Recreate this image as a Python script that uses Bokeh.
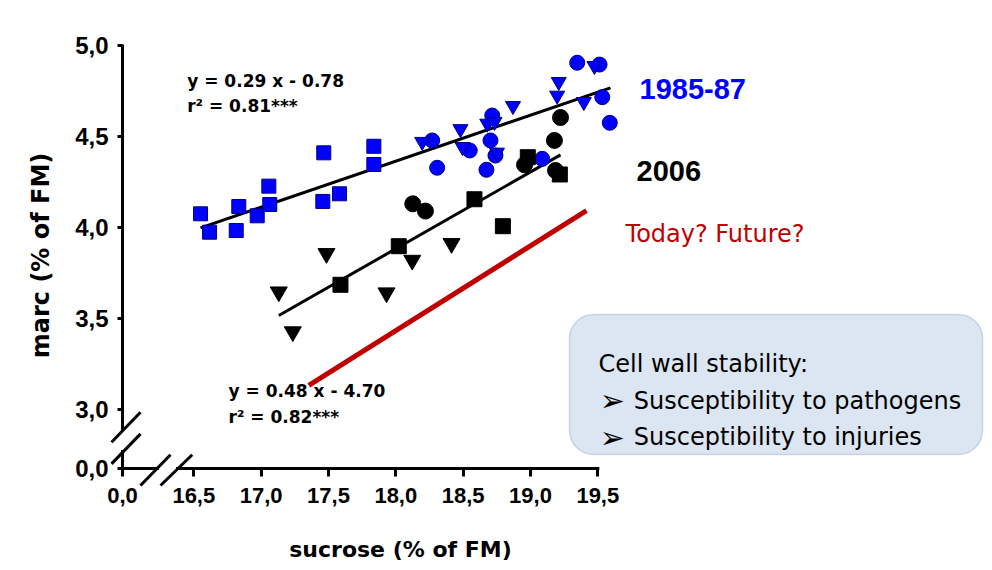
import math
from bokeh.plotting import figure
from bokeh.models import Range1d, FixedTicker, CustomJSTickFormatter, Label, BoxAnnotation
from bokeh.core.properties import value
from bokeh.embed import file_html
from bokeh.resources import INLINE

# ---------------- data (sucrose % of FM  vs  marc % of FM) ----------------
# 1985-87 (blue)
sq85_x = [16.550, 16.617, 16.834, 16.815, 16.971, 17.057, 17.064, 17.465, 17.458, 17.582, 17.837, 17.837]
sq85_y = [4.078, 3.977, 4.118, 3.986, 4.067, 4.230, 4.129, 4.413, 4.146, 4.188, 4.449, 4.349]
ci85_x = [18.270, 18.307, 18.549, 18.716, 18.703, 18.740, 18.673, 19.087, 19.347, 19.513, 19.533, 19.589]
ci85_y = [4.481, 4.331, 4.426, 4.618, 4.481, 4.398, 4.320, 4.380, 4.908, 4.898, 4.719, 4.578]
tr85_x = [18.196, 18.480, 18.495, 18.679, 18.733, 18.751, 18.870, 19.210, 19.198, 19.396, 19.475]
tr85_y = [4.474, 4.544, 4.446, 4.574, 4.584, 4.415, 4.671, 4.803, 4.728, 4.693, 4.891]
# 2006 (black)
ci06_x = [18.126, 18.220, 18.956, 19.178, 19.223, 19.186]
ci06_y = [4.133, 4.093, 4.347, 4.481, 4.607, 4.316]
sq06_x = [17.589, 18.022, 18.584, 18.795, 18.980, 19.218]
sq06_y = [3.688, 3.900, 4.158, 4.010, 4.389, 4.294]
tr06_x = [17.131, 17.235, 17.485, 17.931, 18.122, 18.414]
tr06_y = [3.649, 3.430, 3.860, 3.644, 3.823, 3.915]
# regression lines and projected trend (end points)
fit85_x = [16.550, 19.594]
fit85_y = [4.001, 4.770]
fit06_x = [17.131, 19.223]
fit06_y = [3.519, 4.402]
future_x = [17.354, 19.416]
future_y = [3.135, 4.096]

# broken axes: first tick stands for 0,0
X_TICKS = [15.9706, 16.5, 17.0, 17.5, 18.0, 18.5, 19.0, 19.5]
X_LABELS = ["0,0", "16,5", "17,0", "17,5", "18,0", "18,5", "19,0", "19,5"]
Y_TICKS = [2.6786, 3.0, 3.5, 4.0, 4.5, 5.0]
Y_LABELS = ["0,0", "3,0", "3,5", "4,0", "4,5", "5,0"]

eq_texts = ["y = 0.29 x - 0.78", "r\u00b2 = 0.81***", "y = 0.48 x - 4.70", "r\u00b2 = 0.82***"]
box_lines = ["Cell wall stability:", "Susceptibility to pathogens", "Susceptibility to injuries"]

X0 = X_TICKS[0]
Y0 = Y_TICKS[0]

p = figure(width=984, height=568, output_backend="svg", toolbar_location=None,
           x_range=Range1d(15.0646, 22.3714), y_range=Range1d(2.1291, 5.2500),
           min_border_left=0, min_border_right=0, min_border_top=0, min_border_bottom=0)
p.outline_line_color = None
p.xgrid.visible = False
p.ygrid.visible = False
p.background_fill_color = "white"
p.border_fill_color = "white"

# axes (drawn at the broken-axis origin)
xa = p.xaxis[0]
ya = p.yaxis[0]
xa.fixed_location = Y0
ya.fixed_location = X0
xa.ticker = FixedTicker(ticks=X_TICKS)
ya.ticker = FixedTicker(ticks=Y_TICKS)
code = "const i = tv.findIndex(t => Math.abs(t - tick) < 1e-6); return i >= 0 ? lab[i] : '';"
xa.formatter = CustomJSTickFormatter(args=dict(tv=X_TICKS, lab=X_LABELS), code=code)
ya.formatter = CustomJSTickFormatter(args=dict(tv=Y_TICKS, lab=Y_LABELS), code=code)
for ax in (xa, ya):
    ax.axis_line_color = None
    ax.major_tick_line_color = "black"
    ax.major_tick_line_width = 3
    ax.minor_tick_line_color = None
    ax.major_tick_in = 0
    ax.major_label_text_font = "Liberation Sans"
    ax.major_label_text_font_style = "bold"
    ax.major_label_text_color = "black"
xa.major_label_text_font_size = "22px"
ya.major_label_text_font_size = "24px"
xa.major_tick_out = 8
xa.major_label_standoff = 12
ya.major_tick_out = 5
ya.major_label_standoff = 9

# info box (underlay)
box = BoxAnnotation(left=19.290, right=22.357, top=3.525, bottom=2.755,
                    fill_color="#dce6f2", fill_alpha=1.0, line_color="#6f8fbf",
                    line_width=1.5, border_radius=24, level="underlay")
p.add_layout(box)

# axis lines with break marks
p.segment(x0=[X0, X0, X0, 16.379], y0=[5.0, 2.772, Y0, Y0],
          x1=[X0, X0, 16.230, 19.5], y1=[2.893, Y0, Y0, Y0],
          line_color="black", line_width=3, line_cap="square")
p.segment(x0=[15.889, 15.889, 16.104, 16.253], y0=[2.823, 2.704, 2.585, 2.585],
          x1=[16.104, 16.104, 16.327, 16.488], y1=[2.988, 2.869, 2.754, 2.754],
          line_color="black", line_width=3)

# regression lines
p.line(fit85_x, fit85_y, line_color="black", line_width=3)
p.line(fit06_x, fit06_y, line_color="black", line_width=3)

# markers
BLUE = "#0000ff"
EDGE = "#000080"
p.scatter(sq85_x, sq85_y, marker="square", size=14, fill_color=BLUE, line_color=EDGE, line_width=1)
p.scatter(ci85_x, ci85_y, marker="circle", size=15, fill_color=BLUE, line_color=EDGE, line_width=1)
p.scatter(tr85_x, tr85_y, marker="inverted_triangle", size=15, fill_color=BLUE, line_color=EDGE, line_width=1)
p.scatter(ci06_x, ci06_y, marker="circle", size=16, fill_color="black", line_color="black")
p.scatter(sq06_x, sq06_y, marker="square", size=15, fill_color="black", line_color="black")
p.scatter(tr06_x, tr06_y, marker="inverted_triangle", size=17, fill_color="black", line_color="black")

# regression equations
p.text(x=[16.451, 16.451, 16.758, 16.758], y=[4.805, 4.668, 3.102, 2.964], text=eq_texts,
       text_font=value("DejaVu Sans"), text_font_style="bold", text_font_size="17px",
       text_color="black", text_align="left", text_baseline="alphabetic")

# projected trend line
p.line(future_x, future_y, line_color="#c00000", line_width=5)

# series labels
p.text(x=[19.810], y=[4.766], text=["1985-87"], text_font=value("Liberation Sans"),
       text_font_style="bold", text_font_size="29px", text_color=BLUE,
       text_align="left", text_baseline="alphabetic")
p.text(x=[19.788], y=[4.313], text=["2006"], text_font=value("Liberation Sans"),
       text_font_style="bold", text_font_size="29px", text_color="black",
       text_align="left", text_baseline="alphabetic")
p.text(x=[19.706], y=[3.968], text=["Today? Future?"], text_font=value("DejaVu Sans"),
       text_font_size="24px", text_color="#c00000", text_align="left", text_baseline="alphabetic")

# box text
p.text(x=[19.505, 19.767, 19.767], y=[3.254, 3.052, 2.851], text=box_lines,
       text_font=value("DejaVu Sans"), text_font_size="24px", text_color="black",
       text_align="left", text_baseline="alphabetic")
p.text(x=[19.515, 19.515], y=[3.052, 2.851], text=["\u27a2", "\u27a2"],
       text_font=value("DejaVu Sans"), text_font_size="30px", text_color="black",
       text_align="left", text_baseline="alphabetic")

# axis titles
p.add_layout(Label(x=18.035, y=2.2335, text="sucrose (% of FM)", text_align="center",
                   text_baseline="middle", text_font="DejaVu Sans", text_font_style="bold",
                   text_font_size="22px", text_color="black"))
p.add_layout(Label(x=15.362, y=3.849, text="marc (% of FM)", angle=math.pi / 2,
                   text_align="center", text_baseline="middle", text_font="DejaVu Sans",
                   text_font_style="bold", text_font_size="24px", text_color="black"))

open("out.html", "w").write(file_html(p, INLINE))
